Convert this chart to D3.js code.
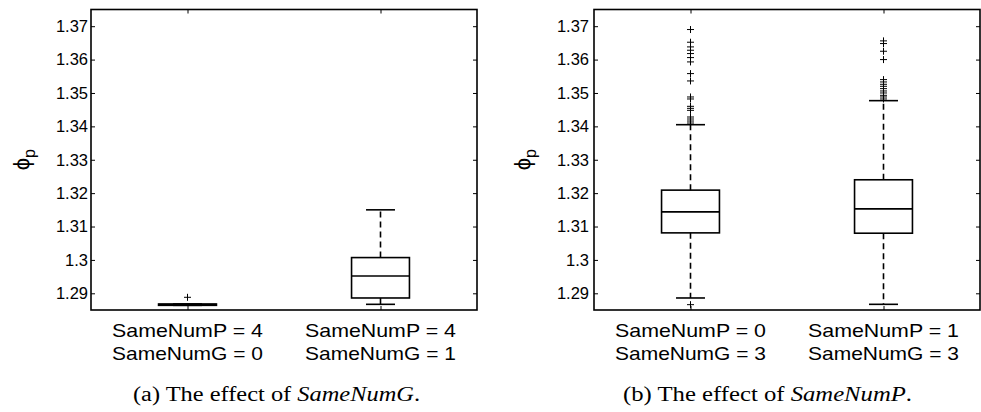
<!DOCTYPE html>
<html>
<head>
<meta charset="utf-8">
<script src="https://cdn.jsdelivr.net/npm/d3@7"></script>
<style>
  html, body { margin: 0; padding: 0; background: #fff; }
  svg { display: block; }
</style>
</head>
<body>
<svg id="chart" width="981" height="412"></svg>
<script>
// ---------- data ----------
const yTicks = [1.29, 1.30, 1.31, 1.32, 1.33, 1.34, 1.35, 1.36, 1.37];
const yTickLabels = ["1.29", "1.3", "1.31", "1.32", "1.33", "1.34", "1.35", "1.36", "1.37"];

const labelsA1 = ["SameNumP = 4", "SameNumP = 4"];
const labelsA2 = ["SameNumG = 0", "SameNumG = 1"];
// [lower whisker, q1, median, q3, upper whisker]
const boxesA = [
  [1.2864, 1.2864, 1.2866, 1.2868, 1.2868],
  [1.2867, 1.2886, 1.2952, 1.3007, 1.3150]
];
const outliersA = [
  [1.2888],
  []
];

const labelsB1 = ["SameNumP = 0", "SameNumP = 1"];
const labelsB2 = ["SameNumG = 3", "SameNumG = 3"];
const boxesB = [
  [1.2886, 1.3081, 1.3144, 1.3209, 1.3405],
  [1.2867, 1.3080, 1.3153, 1.3240, 1.3477]
];
const outliersB = [
  [1.2866, 1.3410, 1.3416, 1.3422, 1.3428, 1.3448, 1.3454, 1.3460, 1.3482, 1.3488,
   1.3536, 1.3558, 1.3593, 1.3606, 1.3618, 1.3628, 1.3638, 1.3652, 1.3690],
  [1.3482, 1.3488, 1.3493, 1.3500, 1.3506, 1.3513, 1.3520, 1.3526, 1.3533, 1.3540,
   1.3600, 1.3625, 1.3648, 1.3656]
];

const captionA = ["(a) The effect of ", "SameNumG", "."];
const captionB = ["(b) The effect of ", "SameNumP", "."];

// ---------- layout ----------
const svg = d3.select("#chart");
const plotTop = 9.5, plotBottom = 310;
const y = d3.scaleLinear().domain([1.285, 1.375]).range([plotBottom, plotTop]);

const panels = [
  { left: 91, right: 477, boxes: boxesA, outliers: outliersA, l1: labelsA1, l2: labelsA2,
    caption: captionA, capX: 276.5, capW: 287, labelX: 29, pad: 3 },
  { left: 594, right: 980, boxes: boxesB, outliers: outliersB, l1: labelsB1, l2: labelsB2,
    caption: captionB, capX: 767.5, capW: 289, labelX: 530, pad: 5 }
];

const sans = "'Liberation Sans', Arial, Helvetica, sans-serif";
const serif = "'Liberation Serif', 'Times New Roman', serif";

panels.forEach(p => {
  const x = d3.scaleLinear().domain([0.5, 2.5]).range([p.left, p.right]);
  const g = svg.append("g");
  const unit = x(1) - x(0);
  const boxW = 0.3 * unit, capW = 0.15 * unit;

  // axes (ticks inward)
  const yAxisL = d3.axisLeft(y).tickValues(yTicks).tickSize(-4).tickPadding(p.pad)
    .tickFormat((d, i) => yTickLabels[i]);
  const gl = g.append("g").attr("transform", `translate(${p.left},0)`).call(yAxisL);
  const yAxisR = d3.axisRight(y).tickValues(yTicks).tickSize(-4).tickFormat("");
  const gr = g.append("g").attr("transform", `translate(${p.right},0)`).call(yAxisR);
  const xAxisB = d3.axisBottom(x).tickValues([1, 2]).tickSize(-4).tickFormat("");
  const gb = g.append("g").attr("transform", `translate(0,${plotBottom})`).call(xAxisB);
  const xAxisT = d3.axisTop(x).tickValues([1, 2]).tickSize(-4).tickFormat("");
  const gt = g.append("g").attr("transform", `translate(0,${plotTop})`).call(xAxisT);
  [gl, gr, gb, gt].forEach(a => {
    a.select(".domain").remove();
    a.selectAll(".tick line").attr("stroke", "#000").attr("stroke-width", 1);
  });
  gl.selectAll(".tick text").attr("font-family", sans).attr("font-size", 16.5).attr("fill", "#000");

  // frame
  g.append("rect").attr("x", p.left).attr("y", plotTop)
    .attr("width", p.right - p.left).attr("height", plotBottom - plotTop)
    .attr("fill", "none").attr("stroke", "#000").attr("stroke-width", 1.6);

  // boxes
  p.boxes.forEach((b, i) => {
    const cx = x(i + 1);
    const bg = g.append("g").attr("stroke", "#000").attr("fill", "none").attr("stroke-width", 1.6);
    // whiskers
    bg.append("line").attr("x1", cx).attr("x2", cx).attr("y1", y(b[3])).attr("y2", y(b[4]))
      .attr("stroke-dasharray", "6,4");
    bg.append("line").attr("x1", cx).attr("x2", cx).attr("y1", y(b[1])).attr("y2", y(b[0]))
      .attr("stroke-dasharray", "6,4");
    // caps
    bg.append("line").attr("x1", cx - capW / 2).attr("x2", cx + capW / 2).attr("y1", y(b[4])).attr("y2", y(b[4]));
    bg.append("line").attr("x1", cx - capW / 2).attr("x2", cx + capW / 2).attr("y1", y(b[0])).attr("y2", y(b[0]));
    // box
    bg.append("rect").attr("x", cx - boxW / 2).attr("width", boxW)
      .attr("y", y(b[3])).attr("height", Math.max(0.1, y(b[1]) - y(b[3])));
    // median
    bg.append("line").attr("x1", cx - boxW / 2).attr("x2", cx + boxW / 2).attr("y1", y(b[2])).attr("y2", y(b[2]));
    // outliers
    p.outliers[i].forEach(v => {
      const yy = y(v);
      bg.append("path").attr("d", `M${cx - 3.5},${yy}H${cx + 3.5}M${cx},${yy - 3.5}V${yy + 3.5}`)
        .attr("stroke-width", 1);
    });
  });

  // category labels
  [p.l1, p.l2].forEach((labels, row) => {
    labels.forEach((t, i) => {
      g.append("text").attr("x", x(i + 1)).attr("y", 337 + row * 23)
        .attr("text-anchor", "middle").attr("font-family", sans).attr("font-size", 18.5)
        .attr("textLength", 151).attr("lengthAdjust", "spacingAndGlyphs")
        .text(t);
    });
  });

  // y label: phi_p rotated
  const yl = g.append("text").attr("transform", `translate(${p.labelX},${(plotTop + plotBottom) / 2}) rotate(-90)`)
    .attr("text-anchor", "middle").attr("font-family", sans).attr("font-size", 22);
  yl.append("tspan").text("\u03D5");
  yl.append("tspan").attr("font-size", 16).attr("dy", 6).text("p");

  // caption
  const cap = g.append("text").attr("x", p.capX).attr("y", 401)
    .attr("text-anchor", "middle").attr("font-family", serif).attr("font-size", 20)
    .attr("textLength", p.capW).attr("lengthAdjust", "spacingAndGlyphs");
  cap.append("tspan").text(p.caption[0]);
  cap.append("tspan").attr("font-style", "italic").text(p.caption[1]);
  cap.append("tspan").text(p.caption[2]);
});
</script>
</body>
</html>
